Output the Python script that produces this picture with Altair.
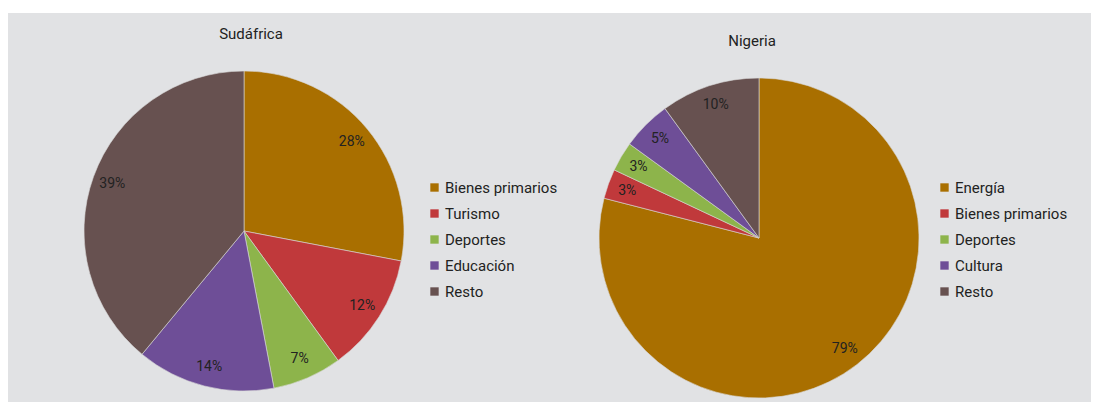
import altair as alt
import pandas as pd

# Data
sa_categories = ["Bienes primarios", "Turismo", "Deportes", "Educación", "Resto"]
sa_values = [28, 12, 7, 14, 39]
ng_categories = ["Energía", "Bienes primarios", "Deportes", "Cultura", "Resto"]
ng_values = [79, 3, 3, 5, 10]
palette = ["#a96f00", "#c0393b", "#8db44b", "#6e4e97", "#675150"]

FONT = "Roboto"
BG = "#e1e2e4"


def make_df(cats, vals):
    return pd.DataFrame({
        "cat": cats,
        "v": vals,
        "idx": list(range(len(cats))),
        "lab": [f"{v}%" for v in vals],
    })


def pie(cats, vals, cx, cy, lx, ly):
    df = make_df(cats, vals)
    base = alt.Chart(df).encode(
        theta=alt.Theta("v:Q", stack=True),
        order=alt.Order("idx:Q"),
        x=alt.value(cx),
        y=alt.value(cy),
    )
    arcs = base.mark_arc(radius=160, stroke="#d9d9d9", strokeWidth=0.6).encode(
        color=alt.Color(
            "cat:N",
            scale=alt.Scale(domain=cats, range=palette),
            sort=cats,
            legend=alt.Legend(
                title=None,
                orient="none",
                legendX=lx,
                legendY=ly,
                symbolType="square",
                symbolSize=70,
                symbolStrokeWidth=0,
                labelFont=FONT,
                labelFontSize=15,
                labelColor="#222222",
                labelOffset=3,
                rowPadding=10,
                padding=0,
            ),
        )
    )
    text = base.mark_text(radius=140, font=FONT, fontSize=14, color="#222222").encode(
        text="lab:N"
    )
    return alt.layer(arcs, text)


sa = pie(sa_categories, sa_values, 236, 218, 419, 167)
ng = pie(ng_categories, ng_values, 751, 225, 929, 167)

t1 = alt.Chart(pd.DataFrame({"t": ["Sudáfrica"]})).mark_text(
    font=FONT, fontSize=15, color="#222222", baseline="middle"
).encode(text="t:N", x=alt.value(243), y=alt.value(21))
t2 = alt.Chart(pd.DataFrame({"t": ["Nigeria"]})).mark_text(
    font=FONT, fontSize=15, color="#222222", baseline="middle"
).encode(text="t:N", x=alt.value(744), y=alt.value(28))

chart = (
    alt.layer(sa, ng, t1, t2)
    .resolve_scale(color="independent", theta="independent")
    .properties(
        width=1083,
        height=389,
        autosize=alt.AutoSizeParams(type="none"),
        padding={"top": 5, "left": 0, "right": 0, "bottom": 0},
        background="white",
    )
    .configure_view(fill=BG, strokeWidth=0)
)

chart.save("out.html", embed_options={"renderer": "svg", "actions": False})
